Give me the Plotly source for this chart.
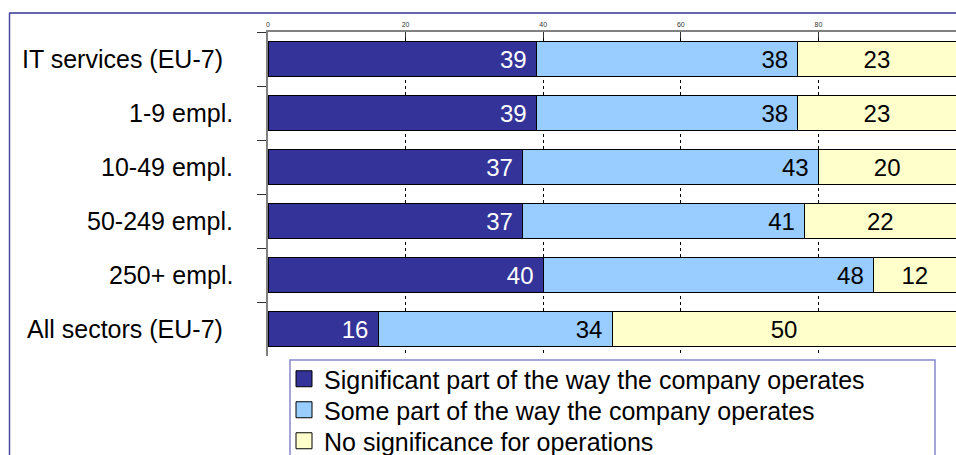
import plotly.graph_objects as go

# Share of companies, by size class, for which the topic matters (%)
categories = ["IT services (EU-7)", "1-9 empl.", "10-49 empl.", "50-249 empl.",
              "250+ empl.", "All sectors (EU-7)"]
significant = [39, 39, 37, 37, 40, 16]
some_part = [38, 38, 43, 41, 48, 34]
no_significance = [23, 23, 20, 22, 12, 50]

series_names = ["Significant part of the way the company operates",
                "Some part of the way the company operates",
                "No significance for operations"]
x_ticks = [0, 20, 40, 60, 80, 100]

FONT = "Arial, Liberation Sans, sans-serif"
colors = ["#333399", "#99ccff", "#ffffcc"]
text_colors = ["#ffffff", "#000000", "#000000"]
anchors = ["end", "end", "middle"]
NBSP = "\u00a0"

# plot area spans x 268..956 px, y 32..356 px
L, R, T, B = 268, 956, 32, 356
W, H = R - L, B - T
px = lambda v: (v - L) / W
py = lambda v: (B - v) / H

legend_ids = ["legend", "legend2", "legend3"]
legend_rows = [379, 410, 441]

fig = go.Figure()
for name, vals, col, tcol, anc, lid in zip(series_names,
                                           [significant, some_part, no_significance],
                                           colors, text_colors, anchors, legend_ids):
    suffix = NBSP if anc == "end" else ""
    fig.add_trace(go.Bar(
        y=categories, x=vals, orientation="h", name=name,
        marker=dict(color=col, line=dict(color="#000000", width=1)),
        text=[f"{v}{suffix}" for v in vals],
        textposition="inside", insidetextanchor=anc, constraintext="none",
        textangle=0,
        textfont=dict(family=FONT, size=24, color=tcol),
        showlegend=False,
    ))
    # legend entry with a larger square swatch, one row per legend
    fig.add_trace(go.Scatter(
        x=[None], y=[None], mode="markers", name=name, legend=lid,
        marker=dict(symbol="square", size=16, color=col,
                    line=dict(color="#000000", width=1)),
        showlegend=True,
    ))

# left-hand category labels
for cat in categories:
    fig.add_annotation(
        x=0, y=cat, xref="x", yref="y", text=cat, showarrow=False,
        xanchor="right", yanchor="middle",
        xshift=-43 if "EU-7" in cat else -33,
        font=dict(family=FONT, size=25, color="#000000"),
    )

# outer frame (top and left edges) and legend box
fig.add_shape(type="line", xref="paper", yref="paper",
              x0=px(9), x1=px(956), y0=py(13), y1=py(13),
              line=dict(color="#6666aa", width=2))
fig.add_shape(type="line", xref="paper", yref="paper",
              x0=px(9.5), x1=px(9.5), y0=py(13), y1=py(470),
              line=dict(color="#4a4aa0", width=1.5))
fig.add_shape(type="rect", xref="paper", yref="paper",
              x0=px(290), x1=px(935), y0=py(360), y1=py(480),
              line=dict(color="#8888cc", width=1.5))

legend_style = dict(
    xanchor="left", yanchor="middle", bgcolor="rgba(0,0,0,0)", borderwidth=0,
    font=dict(family=FONT, size=25, color="#000000"), itemsizing="trace",
)
layout_legends = {lid: dict(x=px(284), y=py(row), **legend_style)
                  for lid, row in zip(legend_ids, legend_rows)}

fig.update_layout(
    width=956, height=455,
    margin=dict(l=L, r=956 - R, t=T, b=455 - B, autoexpand=False),
    paper_bgcolor="white", plot_bgcolor="white",
    barmode="stack", bargap=0.35,
    font=dict(family=FONT, color="#000000"),
    xaxis=dict(
        range=[0, 100], side="top", tickvals=x_ticks,
        tickfont=dict(family=FONT, size=7, color="#333333"),
        showline=True, linecolor="#808080", linewidth=1.5,
        ticks="inside", ticklen=6, tickcolor="#333333",
        showgrid=True, gridcolor="#000000", gridwidth=1, griddash="dot",
        zeroline=False, fixedrange=True,
    ),
    yaxis=dict(
        autorange="reversed", showticklabels=False,
        showline=True, linecolor="#808080", linewidth=1.5,
        ticks="outside", ticklen=9, tickcolor="#333333",
        tickson="boundaries", showgrid=False, zeroline=False,
        fixedrange=True,
    ),
    **layout_legends,
)

fig.write_html("out.html")
